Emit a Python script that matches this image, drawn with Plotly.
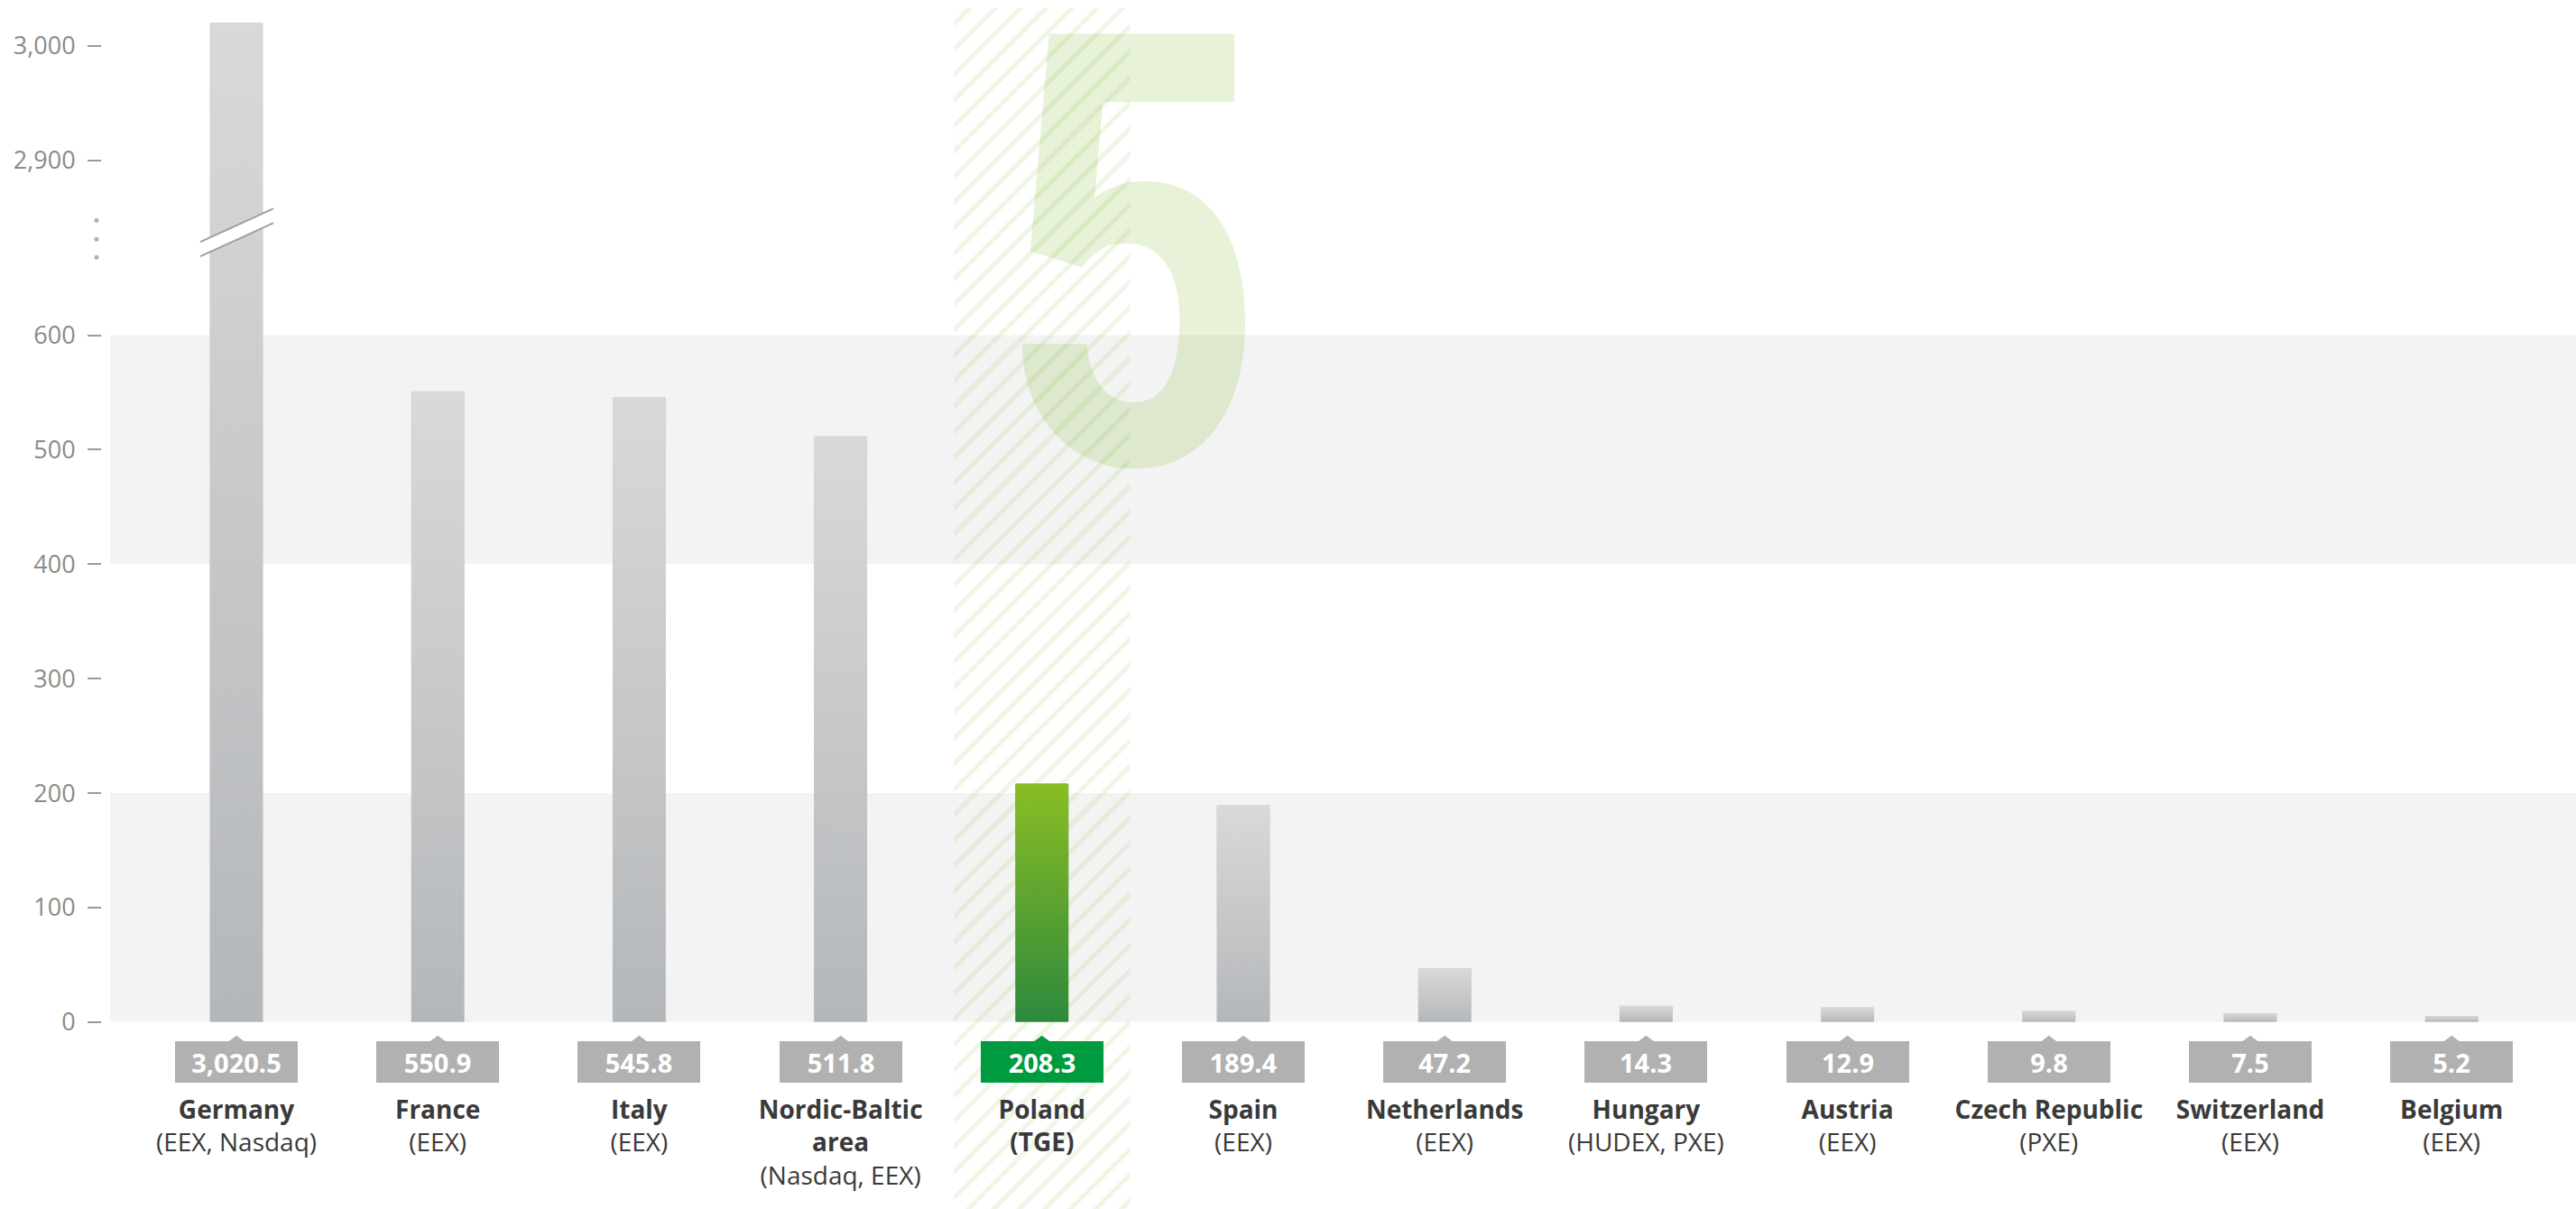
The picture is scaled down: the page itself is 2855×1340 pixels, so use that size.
import base64
import plotly.graph_objects as go

# ---------------- data ----------------
countries = ["Germany", "France", "Italy", "Nordic-Baltic area", "Poland", "Spain",
             "Netherlands", "Hungary", "Austria", "Czech Republic", "Switzerland", "Belgium"]
exchanges = ["EEX, Nasdaq", "EEX", "EEX", "Nasdaq, EEX", "TGE", "EEX",
             "EEX", "HUDEX, PXE", "EEX", "PXE", "EEX", "EEX"]
values = [3020.5, 550.9, 545.8, 511.8, 208.3, 189.4, 47.2, 14.3, 12.9, 9.8, 7.5, 5.2]
highlight = "Poland"
rank_label = "5"
lower_ticks = [0, 100, 200, 300, 400, 500, 600]
upper_ticks = [2900, 3000]
bands = [(0, 200), (400, 600)]

# ---------------- geometry helpers (target picture pixels -> paper) ----------------
W, H_REF = 2855, 1340
H = 1358  # the photographed page is squeezed vertically to the window height
def px(p):
    return p / W
def py(p):
    return (H_REF - p) / H_REF

n = len(countries)
idx = list(range(n))
hi = countries.index(highlight)

x_range = [(113 - 262) / 223.2, (2855 - 262) / 223.2]
x_dom = [px(113), 1.0]
upper_dom = [py(258), py(9)]
lower_dom = [py(1132), py(258)]
upper_range = [2836.7, 3033.1]
lower_range = [0, 689.3]
BAR_W = 0.264

GRAY_BAR = "#c6c8c9"
GRAY_BAR_TOP = "#d6d6d6"
GREEN_BAR = "#5ca431"
GRAY_GRAD = ("#d9d9d9", "#b4b7ba")
GREEN_GRAD = ("#8abd25", "#2d893c")
GRAY_BOX = "#b1b1b1"
GREEN_BOX = "#009b3f"
FONT = "Open Sans, Noto Sans, sans-serif"

bar_colors = [GREEN_BAR if c == highlight else GRAY_BAR for c in countries]


def gradient_uri(top, bottom):
    svg = ('<svg xmlns="http://www.w3.org/2000/svg" width="10" height="100" viewBox="0 0 10 100" '
           'preserveAspectRatio="none"><defs><linearGradient id="g" x1="0" y1="0" x2="0" y2="1">'
           f'<stop offset="0" stop-color="{top}"/><stop offset="1" stop-color="{bottom}"/>'
           '</linearGradient></defs><rect x="0" y="0" width="10" height="100" fill="url(#g)"/></svg>')
    return "data:image/svg+xml;base64," + base64.b64encode(svg.encode()).decode()


fig = go.Figure()

# hatch column behind the highlighted category (subplot x/y, drawn first)
fig.add_trace(go.Bar(
    x=[hi], y=[1], width=0.874, xaxis="x", yaxis="y",
    marker=dict(color="rgba(0,0,0,0)", line=dict(width=0),
                pattern=dict(shape="/", fgcolor="rgba(134,188,60,0.28)",
                             bgcolor="rgba(0,0,0,0)", size=20, solidity=0.25)),
    hoverinfo="skip", showlegend=False,
))

# upper (broken) segment
fig.add_trace(go.Bar(
    x=idx, y=values, width=BAR_W, xaxis="x2", yaxis="y2",
    marker=dict(color=[GRAY_BAR_TOP if c != highlight else GREEN_BAR for c in countries],
                line=dict(width=0)),
    showlegend=False,
))
# lower segment
fig.add_trace(go.Bar(
    x=idx, y=values, width=BAR_W, xaxis="x3", yaxis="y3",
    marker=dict(color=bar_colors, line=dict(width=0)),
    showlegend=False,
))

# vertical colour gradient on each bar (images placed on the bars through the axes)
offset = upper_range[0] - lower_range[1]   # y2 value that meets y3 = top of lower panel
images = []
for i, (c, v) in enumerate(zip(countries, values)):
    src = gradient_uri(*(GREEN_GRAD if c == highlight else GRAY_GRAD))
    if v > lower_range[1]:
        span = v - offset   # bar height expressed on the continuous (broken) scale
        images.append(dict(source=src, xref="x2", yref="y2", x=i, y=v, sizex=BAR_W, sizey=span,
                           xanchor="center", yanchor="top", sizing="stretch", layer="above"))
        images.append(dict(source=src, xref="x3", yref="y3", x=i, y=span, sizex=BAR_W, sizey=span,
                           xanchor="center", yanchor="top", sizing="stretch", layer="above"))
    else:
        images.append(dict(source=src, xref="x3", yref="y3", x=i, y=v, sizex=BAR_W, sizey=v,
                           xanchor="center", yanchor="top", sizing="stretch", layer="above"))

ticktext = []
for c, e in zip(countries, exchanges):
    name_lines = c.replace("Nordic-Baltic ", "Nordic-Baltic\n").split("\n")
    name = "<br>".join(f"<b>{l}</b>" for l in name_lines)
    exch = f"<b>({e})</b>" if c == highlight else f"({e})"
    ticktext.append(f"{name}<br>{exch}")

fig.update_layout(
    width=W, height=H, autosize=False,
    margin=dict(l=0, r=0, t=0, b=0),
    paper_bgcolor="white", plot_bgcolor="rgba(0,0,0,0)",
    showlegend=False, barmode="overlay",
    font=dict(family=FONT),
    images=images,
    xaxis=dict(domain=x_dom, range=x_range, visible=False, anchor="y"),
    yaxis=dict(domain=[0, py(9)], range=[0, 1], visible=False, anchor="x"),
    xaxis2=dict(domain=x_dom, range=x_range, visible=False, anchor="y2"),
    yaxis2=dict(domain=upper_dom, range=upper_range, anchor="x2",
                tickvals=upper_ticks, ticktext=[f"{t:,}" for t in upper_ticks],
                ticks="outside", ticklen=15, tickwidth=2, tickcolor="#9a9a9a",
                ticklabelstandoff=8,
                tickfont=dict(family=FONT, size=27, color="#8a8a8a"),
                showgrid=False, zeroline=False, showline=False),
    xaxis3=dict(domain=x_dom, range=x_range, anchor="y3",
                tickvals=idx, ticktext=ticktext, ticks="",
                ticklabelstandoff=78,
                tickfont=dict(family=FONT, size=28, color="#3a3a3a"),
                showgrid=False, zeroline=False, showline=False),
    yaxis3=dict(domain=lower_dom, range=lower_range, anchor="x3",
                tickvals=lower_ticks, ticktext=[f"{t:,}" for t in lower_ticks],
                ticks="outside", ticklen=15, tickwidth=2, tickcolor="#9a9a9a",
                ticklabelstandoff=8,
                tickfont=dict(family=FONT, size=27, color="#8a8a8a"),
                showgrid=False, zeroline=False, showline=False),
)

shapes = []
# background bands
for b0, b1 in bands:
    shapes.append(dict(type="rect", xref="paper", yref="y3", x0=px(122), x1=1.0,
                       y0=b0, y1=b1, fillcolor="#f3f3f3", line=dict(width=0), layer="below"))

# break marks on the long bar
bx0, bx1 = px(222), px(303)
shapes.append(dict(type="path", xref="paper", yref="paper",
                   path=f"M{bx0},{py(268)} L{bx1},{py(231)} L{bx1},{py(247)} L{bx0},{py(284)} Z",
                   fillcolor="white", line=dict(width=0), layer="above"))
for a, b in [(268, 231), (284, 247)]:
    shapes.append(dict(type="line", xref="paper", yref="paper", x0=bx0, y0=py(a), x1=bx1, y1=py(b),
                       line=dict(color="#a0a0a0", width=2), layer="above"))
# axis break dots
for yy in (244, 265, 285):
    shapes.append(dict(type="circle", xref="paper", yref="paper",
                       x0=px(104.5), x1=px(109.5), y0=py(yy + 2.5), y1=py(yy - 2.5),
                       fillcolor="#b0b0b0", line=dict(width=0)))

# value boxes with notch
annotations = []
for i, (c, v) in enumerate(zip(countries, values)):
    col = GREEN_BOX if c == highlight else GRAY_BOX
    shapes.append(dict(type="path", xref="x3", yref="paper",
                       path=f"M{i - 0.054},{py(1156)} L{i},{py(1147)} L{i + 0.054},{py(1156)} Z",
                       fillcolor=col, line=dict(width=0), layer="above"))
    annotations.append(dict(
        x=i, xref="x3", y=py(1176), yref="paper", xanchor="center", yanchor="middle",
        text=f"<b>{v:,.1f}</b>", showarrow=False, width=136, height=46,
        bgcolor=col, borderpad=0, borderwidth=0,
        font=dict(family=FONT, size=29, color="white"),
    ))

# big rank number (horizontally condensed by post_script below)
annotations.append(dict(
    x=px(1253.5), y=py(284), xref="paper", yref="paper", xanchor="center", yanchor="middle",
    text=rank_label, showarrow=False,
    font=dict(family="Roboto, Liberation Sans, sans-serif", weight=700,
              size=669, color="rgba(134,188,60,0.2)"),
))

fig.update_layout(shapes=shapes, annotations=annotations)

post = """
document.documentElement.style.margin='0';
document.body.style.margin='0';
var gd = document.getElementById('{plot_id}');
function squeezeRank(){
  var nodes = gd.querySelectorAll('.annotation-text');
  nodes.forEach(function(t){
    if (t.textContent === '%s') {
      var bb = t.getBBox(); var cx = bb.x + bb.width/2;
      t.setAttribute('transform', 'translate(' + cx + ',0) scale(0.769,1) translate(' + (-cx) + ',0)');
    }
  });
}
squeezeRank();
gd.on('plotly_afterplot', squeezeRank);
""" % rank_label

fig.write_html("out.html", config={"responsive": False}, post_script=post)
